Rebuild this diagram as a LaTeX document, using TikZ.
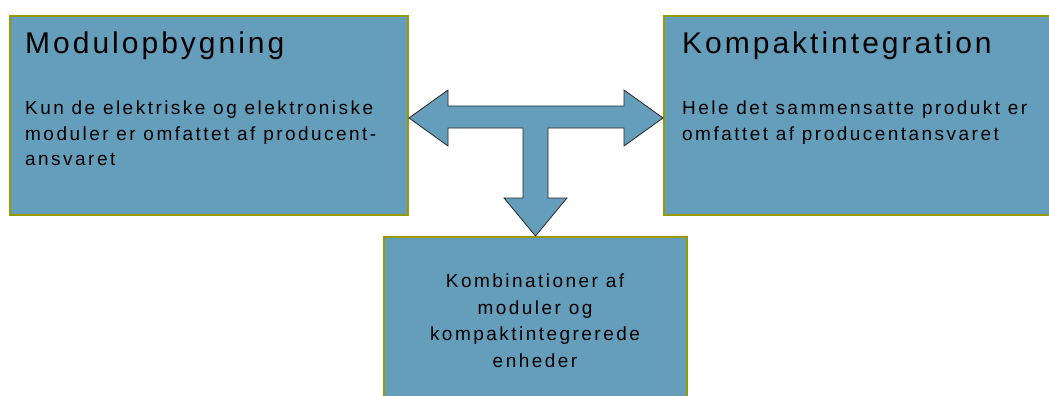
\documentclass[tikz,border=0pt]{standalone}
\usepackage{fontspec}
\setmainfont{Liberation Sans}
\newfontfamily\titlefont[LetterSpace=10]{Liberation Sans}
\newfontfamily\bodyfont[LetterSpace=13]{Liberation Sans}
\definecolor{boxfill}{RGB}{101,158,187}
\definecolor{boxline}{RGB}{153,153,0}
\definecolor{arrline}{RGB}{40,40,40}
\begin{document}
\begin{tikzpicture}[x=1pt,y=-1pt,
  box/.style={draw=boxline, line width=2pt, fill=boxfill, inner sep=0pt, anchor=north west},
  title/.style={anchor=base west, inner sep=0pt, font=\titlefont\fontsize{30}{33}\selectfont},
  body/.style={anchor=north west, inner sep=0pt, align=left, font=\bodyfont\fontsize{19}{25.5}\selectfont},
  bodyc/.style={anchor=north, inner sep=0pt, align=center, font=\bodyfont\fontsize{19}{26.5}\selectfont},
  bigarrow/.style={draw=arrline, line width=0.8pt, fill=boxfill, line join=miter}]
\useasboundingbox (0,0) rectangle (1049,396);
\node[box, minimum width=398pt, minimum height=199pt] (mod) at (9,15) {};
\node[box, minimum width=400pt, minimum height=199pt] (komp) at (663,15) {};
\node[box, minimum width=303pt, minimum height=170pt] (komb) at (383,236) {};
% texts
\node[title] (modt) at (25,53) {Modulopbygning};
\node[body] (modb) at (25,101) {Kun de elektriske og elektroniske\\moduler er omfattet af producent-\\ansvaret};
\node[title] (kompt) at (682,53) {Kompaktintegration};
\node[body] (kompb) at (682,101) {Hele det sammensatte produkt er\\omfattet af producentansvaret};
\node[bodyc] (kombb) at (535,274) {Kombinationer af\\moduler og\\kompaktintegrerede\\enheder};
% T arrow
\coordinate (c) at (535.5,118);
\draw[bigarrow] (mod.east |- c) -- (448,90) -- (448,106) -- (624,106) -- (624,90) -- (komp.west |- c)
  -- (624,146) -- (624,128) -- (548,128) -- (548,198) -- (567,198) -- (komb.north -| c)
  -- (504,198) -- (523,198) -- (523,128) -- (448,128) -- (448,146) -- cycle;
\end{tikzpicture}
\end{document}
